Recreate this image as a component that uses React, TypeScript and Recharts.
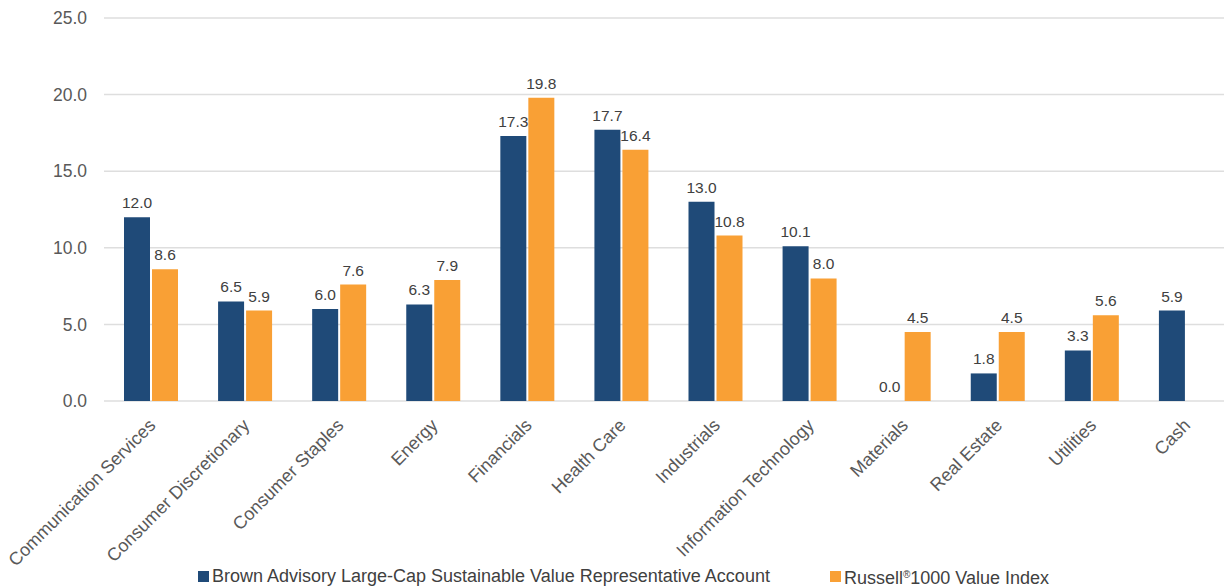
import React from 'react';
import {
  BarChart,
  Bar,
  XAxis,
  YAxis,
  CartesianGrid,
  Legend,
  LabelList,
} from 'recharts';

const SECTORS = [
  'Communication Services',
  'Consumer Discretionary',
  'Consumer Staples',
  'Energy',
  'Financials',
  'Health Care',
  'Industrials',
  'Information Technology',
  'Materials',
  'Real Estate',
  'Utilities',
  'Cash',
];

const ACCOUNT = [12.0, 6.5, 6.0, 6.3, 17.3, 17.7, 13.0, 10.1, 0.0, 1.8, 3.3, 5.9];
const INDEX: (number | null)[] = [8.6, 5.9, 7.6, 7.9, 19.8, 16.4, 10.8, 8.0, 4.5, 4.5, 5.6, null];

const Y_TICKS = [0, 5, 10, 15, 20, 25];

const ACCOUNT_NAME = 'Brown Advisory Large-Cap Sustainable Value Representative Account';
const INDEX_NAME = 'Russell®1000 Value Index';

const BLUE = '#1f4a78';
const ORANGE = '#f9a035';
const FONT = '"Liberation Sans", Arial, sans-serif';

const data = SECTORS.map((sector, i) => ({
  sector,
  account: ACCOUNT[i],
  index: INDEX[i],
}));

const fmt = (v: any) => (v == null ? '' : Number(v).toFixed(1));

// zero-valued bars still need a rect so the "0.0" label gets drawn
const tinyForZero = (v: any) => (v === 0 ? 0.01 : 0);

function SectorTick({ x, y, payload }: any) {
  return (
    <g transform={`translate(${x + 1},${y + 21})`}>
      <text
        textAnchor="end"
        transform="rotate(-45)"
        dy="0.35em"
        fontSize={18}
        fill="#595959"
        fontFamily={FONT}
      >
        {payload.value}
      </text>
    </g>
  );
}

function renderName(name: string) {
  const parts = name.split('®');
  if (parts.length < 2) return name;
  return (
    <>
      {parts[0]}
      <sup style={{ fontSize: 10, verticalAlign: 6 }}>®</sup>
      {parts[1]}
    </>
  );
}

function LegendContent({ payload }: any) {
  return (
    <div
      style={{
        display: 'flex',
        justifyContent: 'center',
        gap: 60,
        height: 20,
        paddingLeft: 14,
        fontSize: 18,
        color: '#404040',
        fontFamily: FONT,
        lineHeight: '20px',
      }}
    >
      {(payload || []).map((p: any) => (
        <div key={p.value} style={{ display: 'flex', alignItems: 'center', whiteSpace: 'nowrap' }}>
          <span
            style={{
              display: 'inline-block',
              width: 11,
              height: 11,
              background: p.color,
              marginRight: 3,
            }}
          />
          <span>{renderName(p.value)}</span>
        </div>
      ))}
    </div>
  );
}

export default function App() {
  return (
    <div
      style={{
        position: 'absolute',
        left: 0,
        top: 0,
        width: 1224,
        height: 586,
        overflow: 'hidden',
        background: '#fff',
        fontFamily: FONT,
      }}
    >
      <BarChart
        width={1234}
        height={586}
        data={data}
        margin={{ top: 18, right: 1, bottom: 0, left: 0 }}
        barGap={2}
        barSize={26}
      >
        <CartesianGrid vertical={false} stroke="#dedede" strokeWidth={1.5} />
        <XAxis
          dataKey="sector"
          interval={0}
          tickLine={false}
          axisLine={false}
          tickSize={0}
          tickMargin={0}
          height={165}
          tick={<SectorTick />}
        />
        <YAxis
          domain={[0, 25]}
          ticks={Y_TICKS}
          tickFormatter={fmt}
          width={104}
          tickLine={false}
          axisLine={false}
          tickSize={0}
          tickMargin={17}
          tick={{ fill: '#595959', fontSize: 17.5 }}
        />
        <Legend verticalAlign="bottom" content={<LegendContent />} />
        <Bar
          dataKey="account"
          name={ACCOUNT_NAME}
          fill={BLUE}
          minPointSize={tinyForZero}
          isAnimationActive={false}
        >
          <LabelList dataKey="account" position="top" offset={9} formatter={fmt} fill="#404040" fontSize={15.5} />
        </Bar>
        <Bar dataKey="index" name={INDEX_NAME} fill={ORANGE} isAnimationActive={false}>
          <LabelList dataKey="index" position="top" offset={9} formatter={fmt} fill="#404040" fontSize={15.5} />
        </Bar>
      </BarChart>
    </div>
  );
}
